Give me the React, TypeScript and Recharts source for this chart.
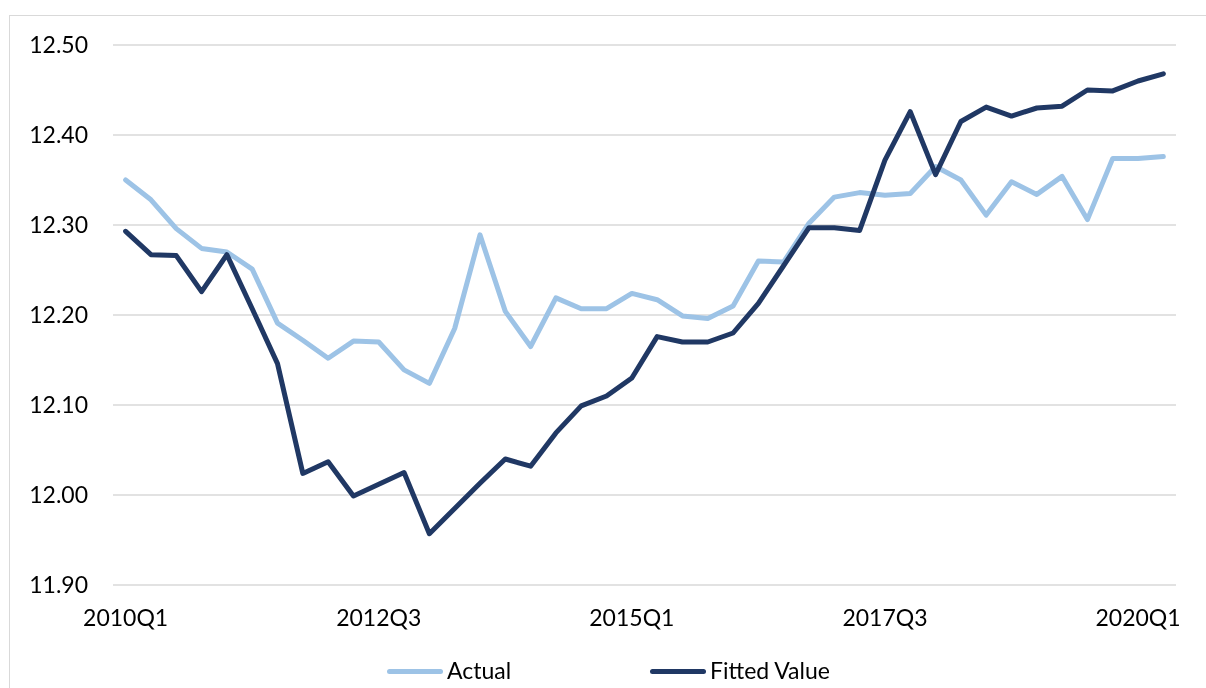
import React from "react";
import { LineChart, Line, XAxis, YAxis, CartesianGrid } from "recharts";

const quarters = [
  "2010Q1","2010Q2","2010Q3","2010Q4",
  "2011Q1","2011Q2","2011Q3","2011Q4",
  "2012Q1","2012Q2","2012Q3","2012Q4",
  "2013Q1","2013Q2","2013Q3","2013Q4",
  "2014Q1","2014Q2","2014Q3","2014Q4",
  "2015Q1","2015Q2","2015Q3","2015Q4",
  "2016Q1","2016Q2","2016Q3","2016Q4",
  "2017Q1","2017Q2","2017Q3","2017Q4",
  "2018Q1","2018Q2","2018Q3","2018Q4",
  "2019Q1","2019Q2","2019Q3","2019Q4",
  "2020Q1","2020Q2",
];

const actual = [
  12.350, 12.328, 12.296, 12.274, 12.270, 12.251, 12.191, 12.172, 12.152, 12.171,
  12.170, 12.139, 12.124, 12.185, 12.289, 12.204, 12.165, 12.219, 12.207, 12.207,
  12.224, 12.217, 12.199, 12.196, 12.210, 12.260, 12.259, 12.302, 12.331, 12.336,
  12.333, 12.335, 12.365, 12.350, 12.311, 12.348, 12.334, 12.354, 12.306, 12.374,
  12.374, 12.376,
];

const fitted = [
  12.293, 12.267, 12.266, 12.226, 12.267, 12.207, 12.146, 12.024, 12.037, 11.999,
  12.012, 12.025, 11.957, 11.985, 12.013, 12.040, 12.032, 12.069, 12.099, 12.110,
  12.130, 12.176, 12.170, 12.170, 12.180, 12.213, 12.255, 12.297, 12.297, 12.294,
  12.372, 12.426, 12.356, 12.415, 12.431, 12.421, 12.430, 12.432, 12.450, 12.449,
  12.460, 12.468,
];

const yTicks = [11.9, 12.0, 12.1, 12.2, 12.3, 12.4, 12.5];

const seriesNames = ["Actual", "Fitted Value"];
const seriesColors = ["#9DC3E6", "#203864"];

const data = quarters.map((q, i) => ({ q, actual: actual[i], fitted: fitted[i] }));

const FONT = "Lato, 'Open Sans', sans-serif";

export default function App() {
  return (
    <div
      style={{
        position: "relative",
        width: 1190,
        height: 672,
        fontFamily: FONT,
        background: "#fff",
      }}
    >
      <div
        style={{
          position: "fixed",
          left: 9,
          top: 15,
          width: 1400,
          height: 900,
          border: "1px solid #d9d9d9",
          boxSizing: "border-box",
          pointerEvents: "none",
        }}
      />
      <div style={{ position: "absolute", left: 0, top: 0 }}>
        <LineChart
          width={1190}
          height={630}
          data={data}
          margin={{ top: 37, right: 22, left: 0, bottom: 13 }}
        >
          <CartesianGrid vertical={false} stroke="#d9d9d9" strokeWidth={1.3} />
          <XAxis
            dataKey="q"
            interval={9}
            axisLine={false}
            tickLine={false}
            tickSize={0}
            tickMargin={25}
            height={40}
            padding={{ left: 12.65, right: 12.65 }}
            tick={{ fill: "#000", fontSize: 23, fontFamily: FONT }}
          />
          <YAxis
            domain={[11.9, 12.5]}
            ticks={yTicks}
            width={105}
            axisLine={false}
            tickLine={false}
            tickSize={0}
            tickMargin={25}
            tickFormatter={(v: number) => v.toFixed(2)}
            tick={{ fill: "#000", fontSize: 23, fontFamily: FONT }}
          />
          <Line
            type="linear"
            dataKey="actual"
            name={seriesNames[0]}
            stroke={seriesColors[0]}
            strokeWidth={5}
            dot={false}
            isAnimationActive={false}
            strokeLinejoin="round"
            strokeLinecap="round"
          />
          <Line
            type="linear"
            dataKey="fitted"
            name={seriesNames[1]}
            stroke={seriesColors[1]}
            strokeWidth={5}
            dot={false}
            isAnimationActive={false}
            strokeLinejoin="round"
            strokeLinecap="round"
          />
        </LineChart>
      </div>
      {seriesNames.map((name, i) => (
        <div
          key={name}
          style={{
            position: "absolute",
            left: i === 0 ? 379 : 642,
            top: 652,
            height: 20,
            display: "flex",
            alignItems: "center",
            whiteSpace: "nowrap",
          }}
        >
          <div
            style={{
              width: 56,
              height: 5,
              borderRadius: 2.5,
              background: seriesColors[i],
              marginRight: 4,
              marginTop: 3,
            }}
          />
          <span style={{ fontSize: 23, color: "#000", lineHeight: "20px" }}>{name}</span>
        </div>
      ))}
    </div>
  );
}
